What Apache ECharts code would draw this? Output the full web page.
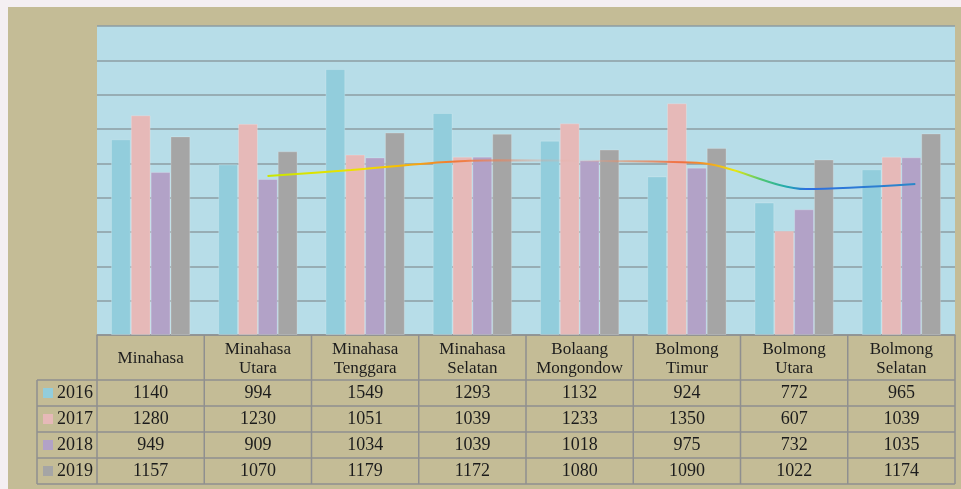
<!DOCTYPE html>
<html>
<head>
<meta charset="utf-8">
<script src="https://cdn.jsdelivr.net/npm/echarts@6/dist/echarts.min.js"></script>
<style>
    html, body { margin: 0; padding: 0; background: #f4eff2; }
    #bg { position: absolute; left: 8px; top: 7px; width: 953px; height: 482px; background: #c4bc96; }
    #main { position: absolute; left: 0; top: 0; width: 961px; height: 489px; }
</style>
</head>
<body>
<div id="bg"></div>
<div id="main"></div>
<script>
    // kabupaten
    var categories = ['Minahasa', 'Minahasa\nUtara', 'Minahasa\nTenggara', 'Minahasa\nSelatan',
        'Bolaang\nMongondow', 'Bolmong\nTimur', 'Bolmong\nUtara', 'Bolmong\nSelatan'];
    var years = ['2016', '2017', '2018', '2019'];
    var v2016 = [1140, 994, 1549, 1293, 1132, 924, 772, 965];
    var v2017 = [1280, 1230, 1051, 1039, 1233, 1350, 607, 1039];
    var v2018 = [949, 909, 1034, 1039, 1018, 975, 732, 1035];
    var v2019 = [1157, 1070, 1179, 1172, 1080, 1090, 1022, 1174];
    var yTicks = [0, 200, 400, 600, 800, 1000, 1200, 1400, 1600, 1800];
    // garis dekorasi (posisi kategori, nilai)
    var trendX = [1.59, 2.37, 3.21, 3.75, 4.71, 5.65, 6.61, 7.63];
    var trendY = [926, 961, 1007, 1018, 1013, 1000, 850, 879];

    var allValues = [v2016, v2017, v2018, v2019];
    var colors = ['#92cddc', '#e6b9b8', '#b2a2c7', '#a5a5a5'];
    var font = '"Liberation Serif", "DejaVu Serif", serif';
    var lineCol = '#8f8f8f';
    var txtCol = '#1c1c1c';

    var chart = echarts.init(document.getElementById('main'));

    var gLeft = 97, gRight = 955, gTop = 26, gBottom = 335;

    var series = allValues.map(function(vals, i) {
        return {
            name: years[i],
            type: 'bar',
            data: vals,
            barGap: 0,
            barCategoryGap: '26%',
            itemStyle: { color: colors[i], borderColor: 'rgba(255,255,255,0.2)', borderWidth: 1 },
            z: 2
        };
    });
    series.push({
        type: 'line',
        xAxisIndex: 1,
        data: trendX.map(function(x, i) { return [x, trendY[i]]; }),
        symbol: 'none',
        smooth: 0.3,
        silent: true,
        z: 5,
        lineStyle: {
            width: 2,
            color: new echarts.graphic.LinearGradient(0, 0, 1, 0, [
                { offset: 0, color: '#c8e600' },
                { offset: 0.15, color: '#f0e000' },
                { offset: 0.2, color: '#f8c000' },
                { offset: 0.29, color: '#f07838' },
                { offset: 0.38, color: 'rgba(240,130,90,0.45)' },
                { offset: 0.48, color: 'rgba(230,180,170,0.1)' },
                { offset: 0.55, color: 'rgba(240,130,80,0.55)' },
                { offset: 0.64, color: '#f07040' },
                { offset: 0.68, color: '#f5a020' },
                { offset: 0.72, color: '#e8e810' },
                { offset: 0.76, color: '#50c870' },
                { offset: 0.8, color: '#20a8b0' },
                { offset: 0.83, color: '#2f6fe0' },
                { offset: 1, color: '#2a88c8' }
            ])
        }
    });

    var option = {
        animation: false,
        grid: {
            left: gLeft,
            right: 961 - gRight,
            top: gTop,
            bottom: 489 - gBottom,
            show: true,
            backgroundColor: '#b7dde8',
            borderWidth: 0
        },
        xAxis: [{
            type: 'category',
            data: categories,
            axisLine: { show: true, lineStyle: { color: lineCol, width: 1.5 } },
            axisTick: { show: false },
            axisLabel: {
                interval: 0,
                margin: 24,
                verticalAlign: 'middle',
                lineHeight: 19,
                fontFamily: font,
                fontSize: 17,
                color: txtCol
            }
        }, {
            type: 'value',
            min: 0,
            max: 8,
            show: false
        }],
        yAxis: {
            type: 'value',
            min: yTicks[0],
            max: yTicks[yTicks.length - 1],
            interval: yTicks[1] - yTicks[0],
            axisLabel: { show: false },
            axisLine: { show: false },
            axisTick: { show: false },
            splitLine: { show: true, lineStyle: { color: '#8c9ca3', width: 1.5 } }
        },
        series: series
    };
    chart.setOption(option);

    // tabel data di bawah grafik
    var colW = (gRight - gLeft) / categories.length;
    var rowTop = 380, rowH = 26, tableLeft = 37;
    var g = [];
    for (var c = 0; c <= categories.length; c++) {
        var x = gLeft + c * colW;
        g.push({ type: 'line', shape: { x1: x, y1: gBottom, x2: x, y2: rowTop + rowH * 4 },
            style: { stroke: lineCol, lineWidth: 1.5 }, silent: true });
    }
    g.push({ type: 'line', shape: { x1: tableLeft, y1: rowTop, x2: tableLeft, y2: rowTop + rowH * 4 },
        style: { stroke: lineCol, lineWidth: 1.5 }, silent: true });
    for (var r = 0; r <= years.length; r++) {
        var y = rowTop + r * rowH;
        g.push({ type: 'line', shape: { x1: tableLeft, y1: y, x2: gRight, y2: y },
            style: { stroke: lineCol, lineWidth: 1.5 }, silent: true });
    }
    years.forEach(function(yr, i) {
        var cy = rowTop + rowH * i + rowH / 2;
        g.push({ type: 'rect', shape: { x: 43, y: cy - 5, width: 10, height: 10 },
            style: { fill: colors[i] }, silent: true });
        g.push({ type: 'text', x: 57, y: cy, silent: true,
            style: { text: yr, fontFamily: font, fontSize: 18, fill: txtCol, verticalAlign: 'middle', align: 'left' } });
        allValues[i].forEach(function(v, j) {
            var px = chart.convertToPixel({ xAxisIndex: 0 }, j);
            g.push({ type: 'text', x: px, y: cy, silent: true,
                style: { text: String(v), fontFamily: font, fontSize: 18, fill: txtCol, verticalAlign: 'middle', align: 'center' } });
        });
    });
    chart.setOption({ graphic: g });

    window.addEventListener('resize', function() {
        chart.resize();
    });
</script>
</body>
</html>
